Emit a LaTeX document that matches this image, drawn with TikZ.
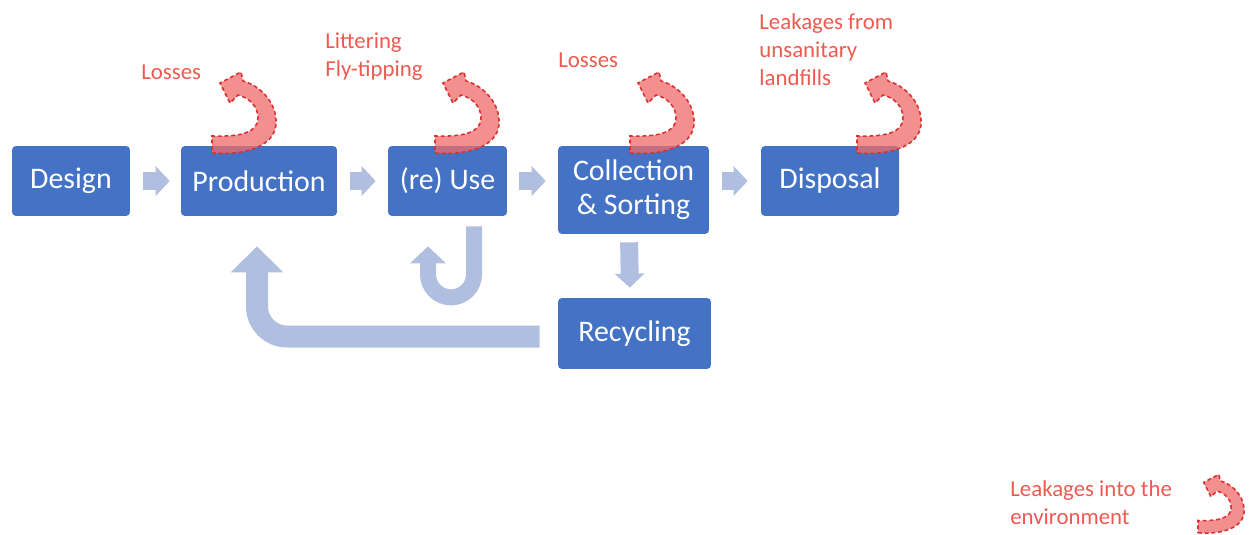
\documentclass[tikz,border=0pt]{standalone}
\usepackage{fontspec}
\setmainfont{Carlito}
\usetikzlibrary{arrows.meta}
\definecolor{boxblue}{HTML}{4472C4}
\definecolor{flowblue}{HTML}{B0BEE0}
\definecolor{lossred}{HTML}{F06A6A}
\definecolor{lossline}{HTML}{D93030}
\definecolor{labelred}{HTML}{EE5A50}

\tikzset{
  stage/.style={fill=boxblue, rounded corners=0.08cm, text=white, align=center,
    font=\fontsize{17}{19.5}\selectfont, minimum height=1.4cm, inner sep=0pt},
  flow/.style={draw=flowblue, line width=0.36cm,
    -{Triangle[width=0.58cm,length=0.28cm]}},
  uturn/.style={draw=flowblue, line width=0.32cm, rounded corners=0.46cm,
    -{Triangle[width=0.7cm,length=0.34cm]}},
  backflow/.style={draw=flowblue, line width=0.44cm, rounded corners=0.6cm,
    -{Triangle[width=1.02cm,length=0.52cm]}},
  losslabel/.style={text=labelred, font=\fontsize{13}{15.9}\selectfont,
    align=left, inner sep=0pt, anchor=west},
  lossarrow/.style={fill=lossred, fill opacity=0.75, draw=lossline,
    line width=0.9pt, dash pattern=on 2.2pt off 1.6pt}
}

% curved loss arrow: x, y of the tail, scale
\newcommand\lossarrow[3]{%
  \draw[lossarrow, shift={(#1,#2)}, scale=#3]
    (0,8) .. controls (35,11) and (66,0) .. (64,-25)
    .. controls (63,-45) and (46,-60) .. (31,-64)
    -- (29,-73) -- (8,-62) -- (18,-42) -- (26,-50)
    .. controls (38,-47) and (46,-38) .. (46,-27)
    .. controls (46,-13) and (30,-8) .. (0,-9) -- cycle;}

\begin{document}
\begin{tikzpicture}[x=0.02cm, y=-0.02cm]
\useasboundingbox (0,0) rectangle (1250,534);

\node (design) at (71,181) [stage, minimum width=2.36cm]{Design};
\node (prod) at (259,181) [stage, minimum width=3.12cm]{Production};
\node (use) at (447.5,181) [stage, minimum width=2.38cm]{(re) Use};
\node (coll) at (633.5,190) [stage, minimum width=3.02cm, minimum height=1.76cm]{Collection\\\& Sorting};
\node (disp) at (830,181) [stage, minimum width=2.76cm]{Disposal};
\node (recyc) at (634.5,333.5) [stage, minimum width=3.06cm, minimum height=1.42cm]{Recycling};

\draw[flow, shorten <=0.26cm, shorten >=0.22cm] (design.east) -- (prod.west);
\draw[flow, shorten <=0.26cm, shorten >=0.24cm] (prod.east) -- (use.west);
\draw[flow, shorten <=0.24cm, shorten >=0.24cm] (use.east) -- (use.east -| coll.west);
\draw[flow, shorten <=0.26cm, shorten >=0.26cm] (disp.west -| coll.east) -- (disp.west);
\draw[flow, shorten <=0.16cm, shorten >=0.2cm] ([xshift=-0.09cm]coll.south) -- ([xshift=-0.09cm]recyc.north);

\draw[uturn] ([shift={(26.5,10)}]use.south) -- ++(0,71) -- ++(-46,0) -- ++(0,-51);
\draw[backflow] ([shift={(-18,3)}]recyc.west) -| ([shift={(-2,30)}]prod.south);

\lossarrow{212}{145}{1}
\lossarrow{435}{145}{1}
\lossarrow{630}{145}{1}
\lossarrow{857}{145}{1}
\lossarrow{1198}{527}{0.72}

\node (l1) at (141,72) [losslabel]{Losses};
\node (l2) at (325,57) [losslabel]{Littering\\Fly-tipping};
\node (l3) at (558,60) [losslabel]{Losses};
\node (l4) at (759,50) [losslabel]{Leakages from\\unsanitary\\landfills};
\node (l5) at (1010,503) [losslabel]{Leakages into the\\environment};

\end{tikzpicture}
\end{document}
